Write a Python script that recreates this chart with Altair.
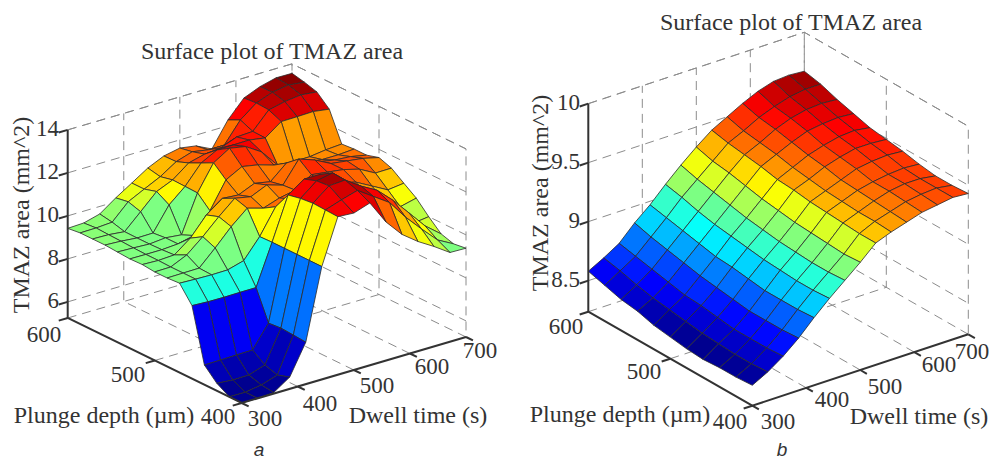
import altair as alt

# ---- values -----------------------------------------------------------
dwell_ticks = [300, 400, 500, 600, 700]
depth_ticks = [400, 500, 600]
area_ticks_a = [6, 8, 10, 12, 14]
area_ticks_b = [8.5, 9, 9.5, 10]
area_labels_b = ["8.5", "9", "9.5", "10"]

# rows: dwell time from 300 to 700; columns: plunge depth from 400 to 600
surface_a = [
    [5.25, 5.26, 5.60, 6.17, 8.65, 9.41, 9.37, 9.37, 9.43, 9.41, 9.45, 9.49, 9.49, 9.49, 9.42],
    [5.25, 5.25, 5.54, 6.18, 8.61, 9.38, 9.38, 9.38, 9.40, 9.40, 9.42, 9.45, 9.47, 9.50, 9.45],
    [5.30, 5.37, 5.55, 6.20, 8.60, 9.36, 9.39, 9.72, 9.44, 9.40, 9.38, 9.38, 9.39, 9.55, 9.65],
    [5.80, 5.61, 5.80, 6.21, 8.61, 9.37, 10.11, 10.35, 10.00, 9.45, 9.45, 9.39, 10.10, 10.28, 10.18],
    [7.20, 7.25, 7.29, 7.24, 8.61, 9.58, 10.88, 11.06, 10.86, 9.62, 9.37, 10.48, 10.82, 10.65, 10.65],
    [10.50, 10.50, 10.50, 10.50, 10.50, 10.48, 11.52, 11.70, 11.41, 10.55, 11.10, 11.12, 11.14, 11.01, 11.13],
    [12.60, 12.63, 12.66, 12.60, 12.48, 11.65, 11.30, 11.55, 11.35, 11.77, 12.28, 11.99, 11.71, 11.49, 11.47],
    [12.55, 12.88, 13.25, 13.20, 13.00, 11.80, 11.55, 11.88, 11.67, 12.17, 12.74, 12.38, 11.90, 11.73, 11.62],
    [12.80, 13.10, 13.30, 13.35, 13.00, 12.20, 11.70, 11.65, 11.53, 12.03, 12.60, 12.39, 11.97, 11.60, 11.50],
    [11.70, 12.60, 12.80, 12.71, 12.60, 12.10, 12.20, 12.65, 12.18, 11.80, 12.13, 12.40, 12.26, 11.60, 11.14],
    [10.90, 12.10, 12.39, 11.93, 11.90, 11.90, 12.10, 12.38, 11.95, 11.67, 11.30, 12.28, 12.30, 12.55, 12.27],
    [10.35, 11.20, 11.70, 11.15, 11.30, 11.70, 12.00, 12.00, 11.80, 11.50, 11.24, 12.82, 13.08, 13.12, 13.07],
    [9.90, 10.43, 10.89, 10.38, 10.90, 11.30, 11.80, 11.90, 11.66, 11.40, 11.25, 12.83, 13.25, 13.40, 13.38],
    [9.40, 9.70, 10.07, 9.90, 10.40, 10.90, 11.40, 11.80, 11.60, 11.40, 11.35, 12.85, 13.34, 13.52, 13.57],
    [9.38, 9.30, 9.48, 10.00, 10.58, 10.99, 11.41, 11.62, 11.45, 11.45, 11.40, 12.74, 13.26, 13.43, 13.56],
]
surface_b = [
    [8.41, 8.40, 8.40, 8.39, 8.40, 8.42, 8.44, 8.48, 8.50, 8.54, 8.58],
    [8.48, 8.47, 8.47, 8.48, 8.49, 8.51, 8.53, 8.55, 8.58, 8.62, 8.65],
    [8.57, 8.56, 8.56, 8.56, 8.58, 8.60, 8.61, 8.64, 8.67, 8.70, 8.73],
    [8.68, 8.67, 8.67, 8.67, 8.69, 8.71, 8.73, 8.76, 8.79, 8.82, 8.86],
    [8.81, 8.80, 8.80, 8.80, 8.82, 8.84, 8.85, 8.88, 8.91, 8.94, 8.97],
    [8.93, 8.92, 8.92, 8.93, 8.94, 8.96, 8.98, 9.00, 9.03, 9.07, 9.10],
    [9.04, 9.03, 9.03, 9.04, 9.05, 9.07, 9.09, 9.12, 9.15, 9.18, 9.22],
    [9.15, 9.14, 9.15, 9.16, 9.17, 9.19, 9.21, 9.24, 9.27, 9.29, 9.33],
    [9.27, 9.27, 9.28, 9.29, 9.30, 9.32, 9.33, 9.36, 9.38, 9.40, 9.43],
    [9.32, 9.33, 9.33, 9.34, 9.35, 9.37, 9.39, 9.42, 9.44, 9.46, 9.50],
    [9.36, 9.37, 9.38, 9.39, 9.40, 9.43, 9.45, 9.48, 9.51, 9.53, 9.57],
    [9.40, 9.41, 9.42, 9.42, 9.45, 9.47, 9.49, 9.53, 9.56, 9.58, 9.63],
    [9.42, 9.43, 9.44, 9.44, 9.47, 9.50, 9.52, 9.55, 9.59, 9.62, 9.67],
    [9.44, 9.44, 9.44, 9.45, 9.48, 9.50, 9.53, 9.56, 9.60, 9.64, 9.68],
    [9.43, 9.42, 9.42, 9.44, 9.47, 9.49, 9.51, 9.55, 9.59, 9.64, 9.67],
]

SERIF = "Liberation Serif"
INK = "#333333"
JET_STOPS = [0, 0.125, 0.375, 0.625, 0.875, 1]
JET = ["#00008f", "#0000ff", "#00ffff", "#ffff00", "#ff0000", "#800000"]

PANEL_A = dict(o=(241.7, 403), ex=(224.3, -66), ey=(-174, -85), pz=21.5,
               zmin=5.25, zmax=14, title=(272, 52), zlab=(22, 215), ticks=area_ticks_a,
               ticklabels=[str(t) for t in area_ticks_a], zx=59, letter=("a", 259, 450),
               ylabel=(104, 416), xlabel=(418, 416),
               ylabs=[(218, 417), (128, 375), (44, 335)],
               xlabs=[(265, 419), (320, 404), (377, 386), (432, 367), (480, 351)])
PANEL_B = dict(o=(752.3, 405.7), ex=(216, -71.4), ey=(-164, -94), pz=118,
               zmin=8.237, zmax=10, title=(791, 23), zlab=(541, 193), ticks=area_ticks_b,
               ticklabels=area_labels_b, zx=580, letter=("b", 782, 450),
               ylabel=(620, 415), xlabel=(919, 417),
               ylabs=[(730, 422), (644, 372), (566, 327)],
               xlabs=[(778, 422), (832, 400), (885, 387), (939, 365), (972, 352)])


def line(points):
    return {"type": "Feature", "properties": {},
            "geometry": {"type": "LineString", "coordinates": points}}


def panel(p, surface):
    def pr(dw, de, z):
        u = (dw - 300) / 400
        v = (de - 400) / 200
        return [p["o"][0] + u * p["ex"][0] + v * p["ey"][0],
                p["o"][1] + u * p["ex"][1] + v * p["ey"][1] - (z - p["zmin"]) * p["pz"]]

    zlo, zhi = p["zmin"], p["zmax"]
    grid = []
    for d in dwell_ticks[1:]:
        grid.append(line([pr(d, 400, zlo), pr(d, 600, zlo), pr(d, 600, zhi)]))
    for d in depth_ticks[1:]:
        grid.append(line([pr(300, d, zlo), pr(700, d, zlo), pr(700, d, zhi)]))
    for z in p["ticks"]:
        grid.append(line([pr(300, 600, z), pr(700, 600, z), pr(700, 400, z)]))
    grid.append(line([pr(300, 600, zhi), pr(700, 600, zhi), pr(700, 400, zhi), pr(700, 400, zlo)]))

    axes = [line([pr(300, 600, zhi), pr(300, 600, zlo), pr(300, 400, zlo), pr(700, 400, zlo)])]
    for d in dwell_ticks:
        axes.append(line([pr(d, 400, zlo), pr(d, 392, zlo)]))
    for d in depth_ticks:
        axes.append(line([pr(300, d, zlo), pr(284, d, zlo)]))
    for z in p["ticks"]:
        axes.append(line([pr(300, 600, z), pr(284, 600, z)]))

    ni, nj = len(surface), len(surface[0])
    cells = []
    for i in range(ni - 2, -1, -1):
        for j in range(nj - 2, -1, -1):
            def node(a, b):
                return pr(300 + 400 * a / (ni - 1), 400 + 200 * b / (nj - 1), surface[a][b])
            ring = [node(i, j), node(i + 1, j), node(i + 1, j + 1), node(i, j + 1), node(i, j)]
            cells.append({"type": "Feature", "properties": {"z": surface[i][j]},
                          "geometry": {"type": "Polygon", "coordinates": [ring]}})
    zs = [v for r in surface for v in r]
    z0, z1 = min(zs), max(zs)
    fill = alt.Fill("properties.z:Q", legend=None,
                    scale=alt.Scale(domain=[z0 + t * (z1 - z0) for t in JET_STOPS], range=JET,
                                    interpolate="rgb"))

    layers = [
        alt.Chart(alt.Data(values=grid)).mark_geoshape(filled=False, stroke="#8c8c8c", strokeWidth=1,
                                                       strokeDash=[9, 6]),
        alt.Chart(alt.Data(values=cells)).mark_geoshape(stroke="#2b2b2b", strokeWidth=0.8).encode(fill=fill),
        alt.Chart(alt.Data(values=axes)).mark_geoshape(filled=False, stroke=INK, strokeWidth=2),
    ]

    def text(rows, size, align="center", angle=0, font=SERIF, italic=False):
        mark = dict(font=font, fontSize=size, color=INK, align=align, baseline="middle", angle=angle)
        if italic:
            mark["fontStyle"] = "italic"
        return alt.Chart(alt.Data(values=[{"lon": x, "lat": y, "t": t} for t, x, y in rows])).mark_text(
            **mark).encode(longitude="lon:Q", latitude="lat:Q", text="t:N")

    ztick_rows = [(lab, p["zx"], pr(300, 600, z)[1] - 1) for lab, z in zip(p["ticklabels"], p["ticks"])]
    layers += [
        text([("Surface plot of TMAZ area", *p["title"])], 24),
        text([("TMAZ area (mm^2)", *p["zlab"])], 24, angle=270),
        text(ztick_rows, 23, align="right"),
        text([(str(d), *xy) for d, xy in zip(depth_ticks, p["ylabs"])], 23),
        text([(str(d), *xy) for d, xy in zip(dwell_ticks, p["xlabs"])], 23),
        text([("Plunge depth (\u00b5m)", *p["ylabel"])], 24),
        text([("Dwell time (s)", *p["xlabel"])], 24),
        text([(p["letter"][0], p["letter"][1], p["letter"][2])], 19, font="Liberation Sans", italic=True),
    ]
    return layers


all_layers = panel(PANEL_A, surface_a) + panel(PANEL_B, surface_b)
chart = alt.layer(*all_layers).project(type="identity", scale=1, translate=[-8, -8]).resolve_scale(
    fill="independent").properties(width=982, height=451, padding=0).configure_view(stroke=None)
chart.save("out.html", embed_options={"renderer": "svg", "actions": False})
